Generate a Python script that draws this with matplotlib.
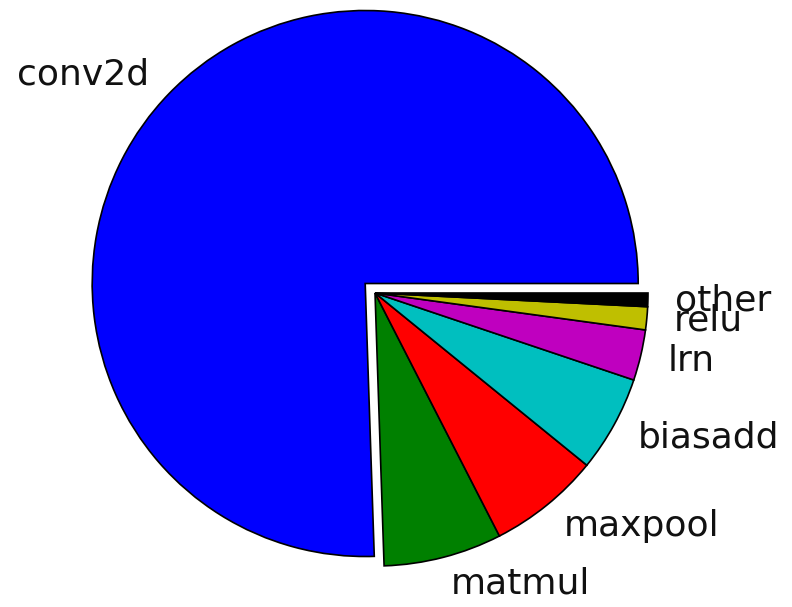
import matplotlib
matplotlib.use("Agg")
import matplotlib.pyplot as plt

# op share of total runtime
ops = ['conv2d', 'matmul', 'maxpool', 'biasadd', 'lrn', 'relu', 'other']
share = [0.755, 0.070, 0.066, 0.057, 0.030, 0.0136, 0.008]
colors = ['#0000ff', '#008000', '#ff0000', '#00bfbf', '#bf00bf', '#bfbf00', '#000000']
explode = [0.05, 0, 0, 0, 0, 0, 0]

W, H = 792, 607
R = 273.0          # pie radius in pixels
cx, cy = 375, 293  # pie centre in pixels (from top-left)

fig = plt.figure(figsize=(W / 100, H / 100), dpi=100)
ax = fig.add_axes([0, 0, 1, 1])
ax.pie(share, labels=ops, colors=colors, explode=explode, startangle=0,
       counterclock=True, labeldistance=1.1,
       wedgeprops=dict(edgecolor='black', linewidth=1.2),
       textprops=dict(fontsize=26, color='#111111'))
ax.set_aspect('auto')
ax.set_xlim(-cx / R, (W - cx) / R)
ax.set_ylim(-(H - cy) / R, cy / R)
ax.axis('off')

fig.savefig('out.png', dpi=100)
